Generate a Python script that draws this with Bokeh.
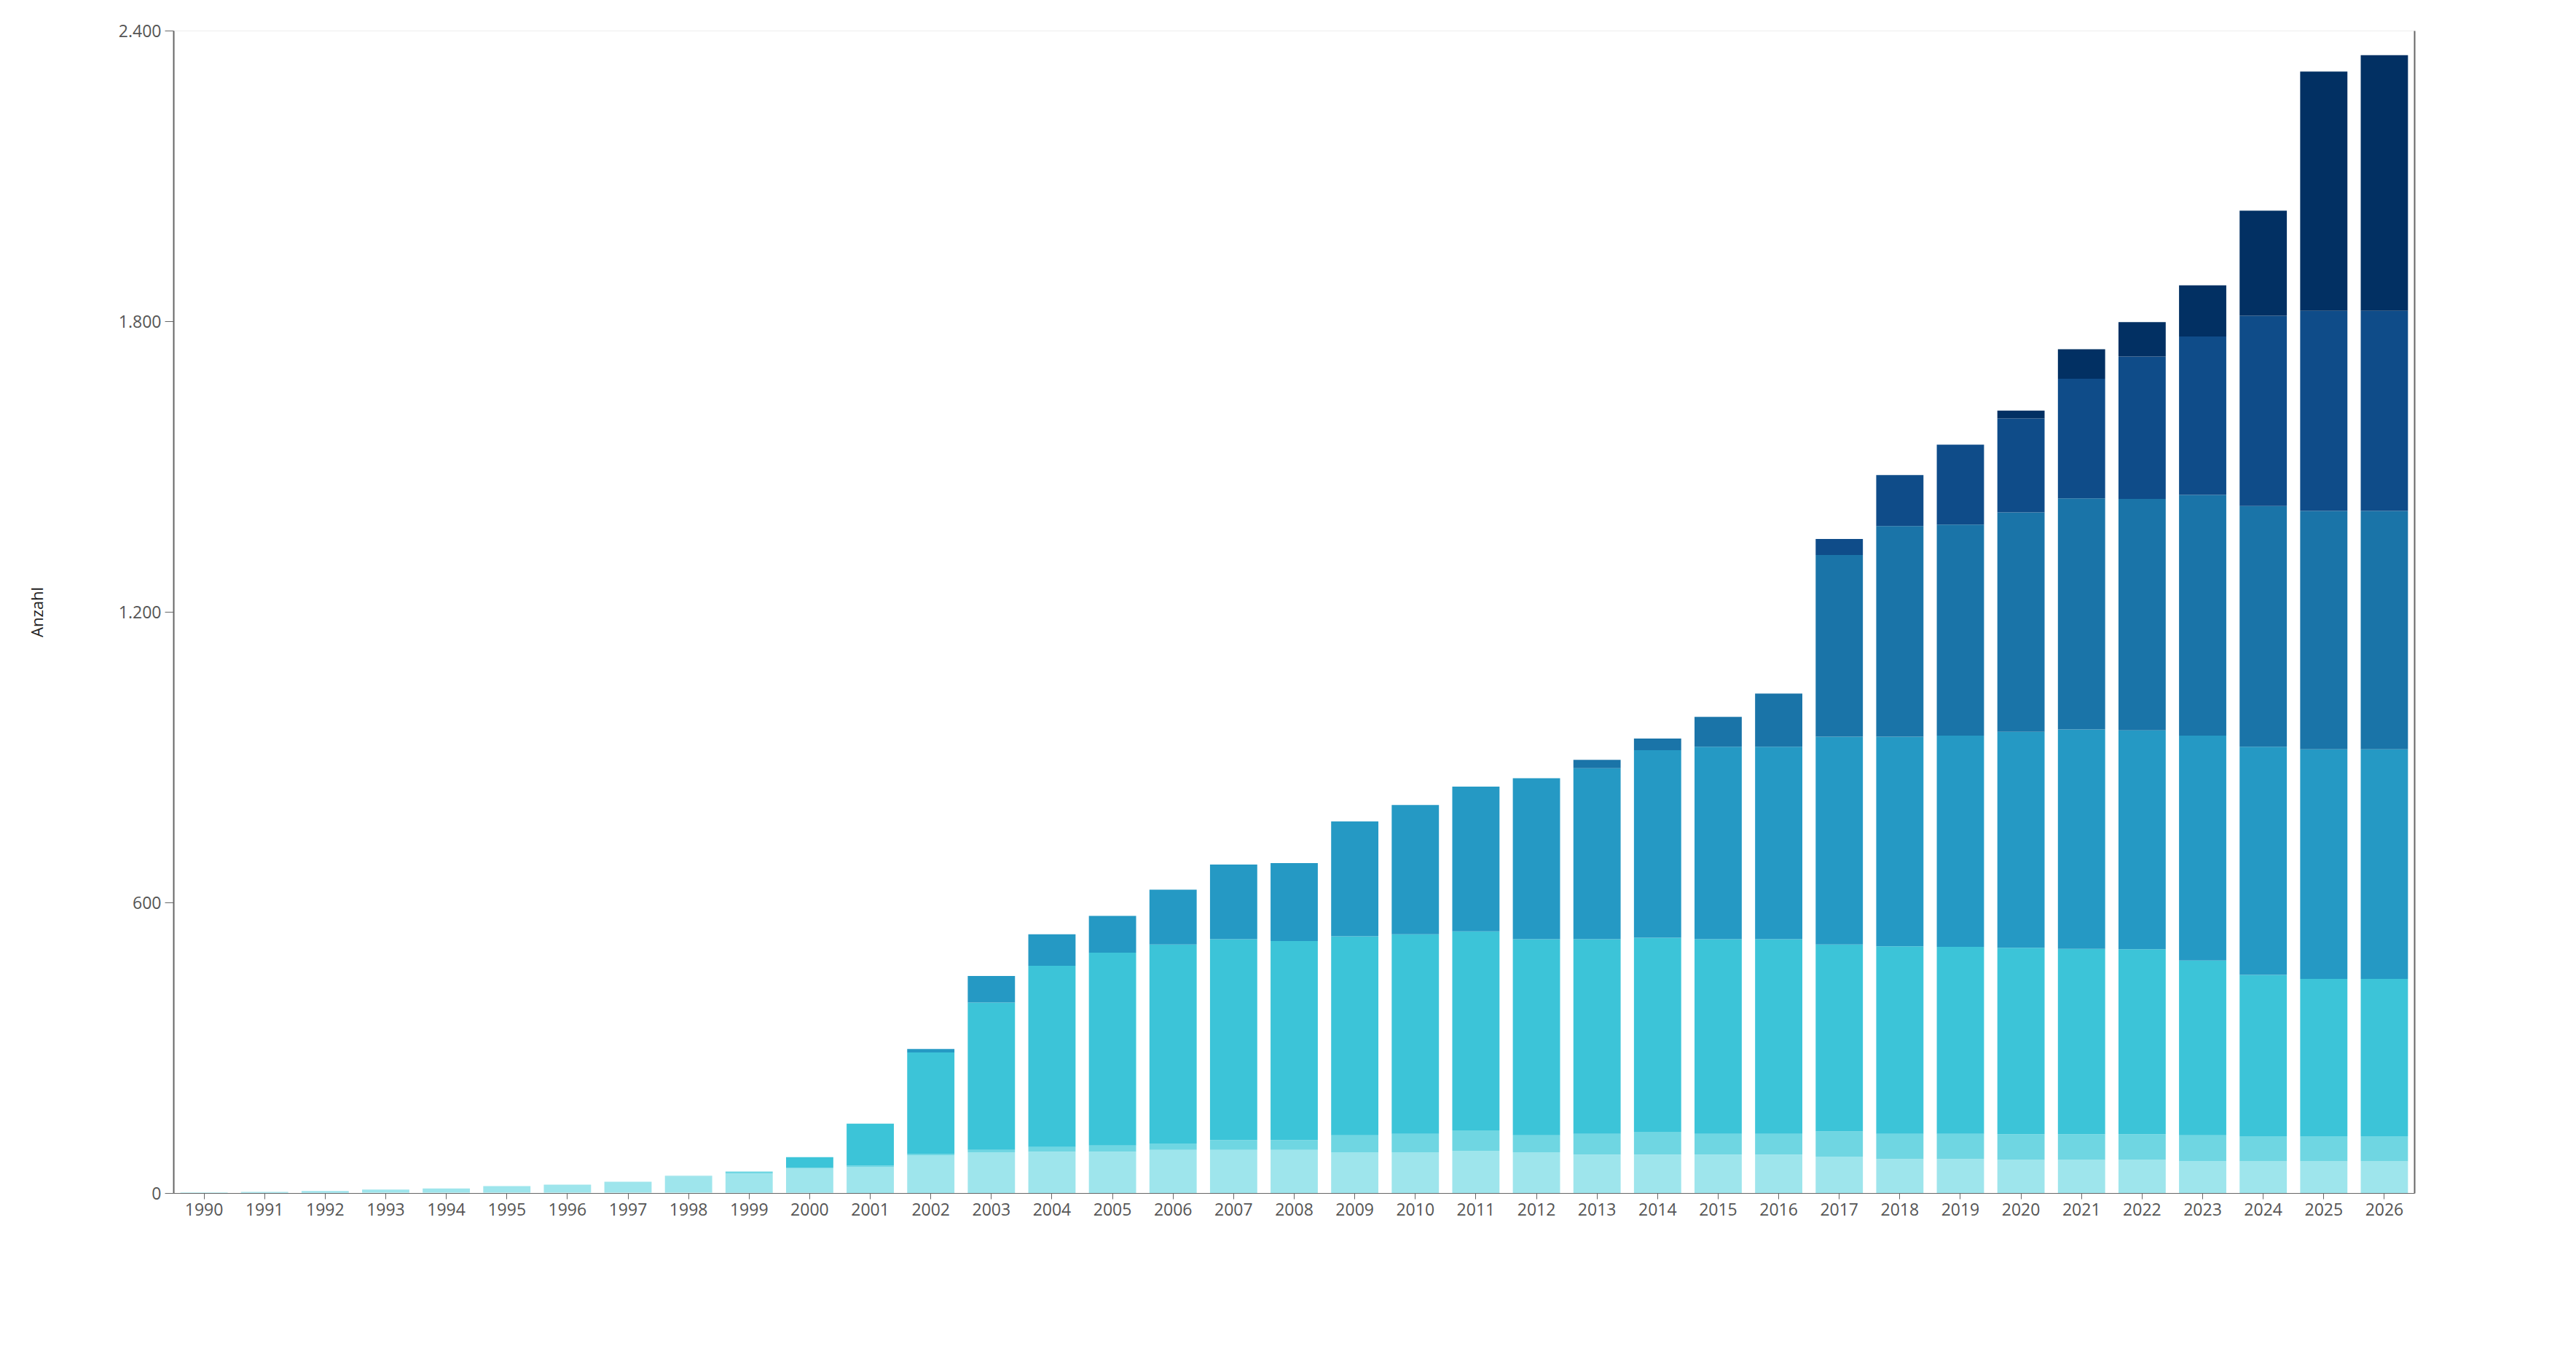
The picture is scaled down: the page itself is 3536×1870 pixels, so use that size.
from bokeh.plotting import figure
from bokeh.models import Legend, LegendItem, LinearAxis, CustomJSTickFormatter, Range1d, CategoricalAxis
from bokeh.embed import file_html
from bokeh.resources import INLINE

years = [str(y) for y in range(1990, 2027)]
bis80 = [1,1,1,2,2,2,2,2,2,1,1] + [0]*26
kw80_750 = [1,2,4,6,8,13,16,22,33,40,50,55,79,85,86,86,90,90,90,85,85,88,85,80,80,80,80,76,71,71,69,69,69,67,66,66,66]
kw750_1000 = [0]*8 + [1,4,2,2,3,5,10,13,13,20,20,35,38,42,35,43,47,43,43,52,52,52,53,53,53,53,52,52,52]
kw1000_2000 = [0]*10 + [22,87,209,304,374,398,411,415,411,411,412,411,405,402,401,402,402,386,387,386,385,383,382,361,333,325,325]
kw2000_3000 = [0]*12 + [7,55,65,76,113,154,161,237,267,299,332,353,387,397,397,429,433,436,446,453,452,464,471,474,474]
kw3000_4000 = [0]*23 + [17,24,62,110,375,435,436,453,477,478,497,497,492,492]
kw4000_5000 = [0]*27 + [33,105,165,194,247,294,327,393,413,413]
kw5000 = [0]*30 + [16,61,71,106,217,494,528]

keys = ["bis80","k80","k750","k1000","k2000","k3000","k4000","k5000"]
names = ["bis 80 kW","80 kW - 750 kW","750 kW -1000 kW","1000 kW - 2000 kW","2000 kW - 3000 kW","3000 kW - 4000 kW","4000 - 5000 kW","5000 kW"]
colors = ["#c9f1f5","#9ee5ec","#6fd6e2","#3cc4d8","#2599c4","#1a74a8","#0f4c89","#023063"]
data = dict(years=years, bis80=bis80, k80=kw80_750, k750=kw750_1000, k1000=kw1000_2000,
            k2000=kw2000_3000, k3000=kw3000_4000, k4000=kw4000_5000, k5000=kw5000)

FONT = "Open Sans"
p = figure(x_range=years, y_range=Range1d(0, 2400), frame_width=3076, frame_height=1596,
           output_backend="svg", toolbar_location=None,
           min_border_left=238, min_border_right=206, min_border_top=42, min_border_bottom=0)
rs = p.vbar_stack(keys, x="years", width=0.78, color=colors, line_color=None, source=data)

p.outline_line_color = None
p.xgrid.grid_line_color = None
p.ygrid.grid_line_color = None
p.yaxis.ticker = [0, 600, 1200, 1800, 2400]
p.yaxis.formatter = CustomJSTickFormatter(code="return tick.toLocaleString('de-DE');")
p.yaxis.axis_label = "Anzahl"
p.yaxis.axis_label_standoff = 95
p.yaxis.axis_label_text_font = FONT
p.yaxis.axis_label_text_font_style = "normal"
p.yaxis.axis_label_text_font_size = "22px"
p.yaxis.axis_label_text_color = "#222222"
for ax in (p.xaxis, p.yaxis):
    ax.major_label_text_font = FONT
    ax.major_label_text_font_size = "23px"
    ax.major_label_text_color = "#555555"
    ax.axis_line_color = "#666666"
    ax.major_tick_line_color = "#666666"
    ax.minor_tick_line_color = None
p.yaxis.axis_line_width = 2
p.yaxis.major_tick_out = 12
p.yaxis.major_tick_in = 0
p.xaxis.major_tick_out = 8
p.xaxis.major_tick_in = 0

ra = LinearAxis(major_tick_line_color=None, minor_tick_line_color=None,
                major_label_text_font_size="0px", axis_line_color="#666666", axis_line_width=2)
p.add_layout(ra, "right")
ta = CategoricalAxis(major_tick_line_color=None, major_label_text_font_size="0px",
                     axis_line_color="#eeeeee")
p.add_layout(ta, "above")

order = [3, 4, 5, 6, 7, 2, 1, 0]
items = [LegendItem(label=names[i], renderers=[rs[i]]) for i in order]
leg = Legend(items=items, orientation="horizontal", location="center",
             label_text_font=FONT, label_text_font_size="27px", label_text_color="#222222",
             glyph_width=28, glyph_height=28, spacing=22, border_line_color=None,
             margin=60, padding=5)
p.add_layout(leg, "below")

open("out.html", "w").write(file_html(p, INLINE))
